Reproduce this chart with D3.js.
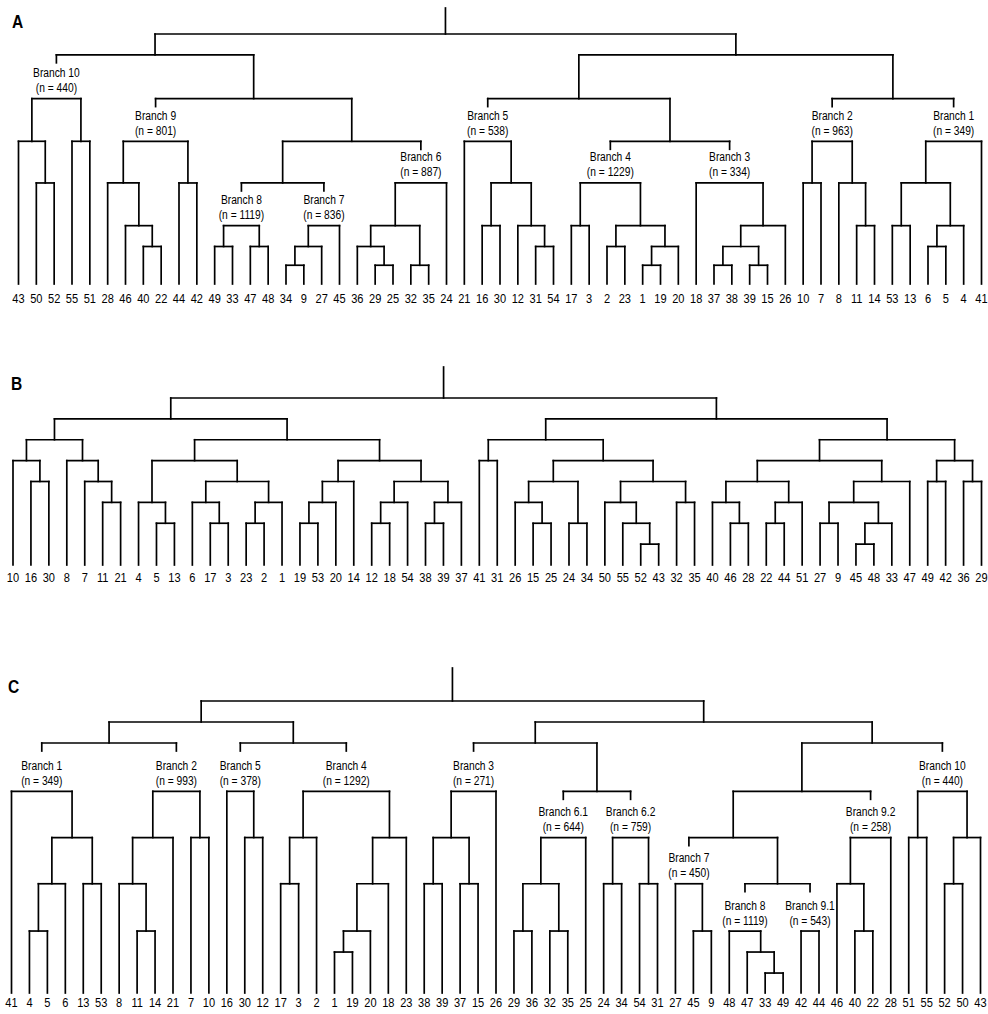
<!DOCTYPE html>
<html><head><meta charset="utf-8">
<script src="https://cdn.jsdelivr.net/npm/d3@7"></script>
<style>
html,body{margin:0;padding:0;background:#fff;}
svg{display:block;}
</style></head><body>
<svg id="chart" width="988" height="1014"></svg>
<script>
// ================= DATA =================
// Panel A — leaf order (bottom labels)
const leavesA = [43,50,52,55,51,28,46,40,22,44,42,49,33,47,48,34,9,27,45,36,29,25,32,35,24,21,16,30,12,31,54,17,3,2,23,1,19,20,18,37,38,39,15,26,10,7,8,11,14,53,13,6,5,4,41];
const branchIdsA = ["10","9","8","7","6","5","4","3","2","1"];
const branchNA   = [440,801,1119,836,887,538,1229,334,963,349];
// subtrees: "(a,b):height!branchId" (heights estimated, leaf = 0)
const A_b10 = "((43,(50,52):4.85):6.85,(55,51):6.85):8.9!10";
const A_b9  = "((28,(46,(40,22):1.8):2.8):4.85,(44,42):4.85):6.85!9";
const A_b8  = "((49,33):1.8,(47,48):1.8):2.8!8";
const A_b7  = "(((34,9):0.9,27):1.8,45):2.8!7";
const A_b6  = "(((36,(29,25):0.9):1.8,(32,35):0.9):2.8,24):4.85!6";
const A_b5  = "(21,((16,30):2.8,(12,(31,54):1.8):2.8):4.85):6.85!5";
const A_b4  = "((17,3):2.8,((2,23):1.8,((1,19):0.9,20):1.8):2.8):4.85!4";
const A_b3  = "(18,(((37,38):0.9,(39,15):0.9):1.8,26):2.8):4.85!3";
const A_b2  = "((10,7):4.85,(8,(11,14):2.8):4.85):6.85!2";
const A_b1  = "(((53,13):2.8,((6,5):1.8,4):2.8):4.85,41):6.85!1";
const treeA = `((${A_b10},(${A_b9},((${A_b8},${A_b7}):4.85,${A_b6}):6.85):8.9):11,((${A_b5},(${A_b4},${A_b3}):6.85):8.9,(${A_b2},${A_b1}):8.9):11):12`;

// Panel B
const leavesB = [10,16,30,8,7,11,21,4,5,13,6,17,3,23,2,1,19,53,20,14,12,18,54,38,39,37,41,31,26,15,25,24,34,50,55,52,43,32,35,40,46,28,22,44,51,27,9,45,48,33,47,49,42,36,29];
const B_l1 = "((10,(16,30):4):5,(8,(7,(11,21):3):4):5):6";
const B_l2 = "(((4,(5,13):2):3,((6,(17,3):2):3,((23,2):2,1):3):4):5,((((19,53):2,20):3,14):4,(((12,18):2,54):3,((38,39):2,37):3):4):5):6";
const B_r1 = "((41,31):5,(((26,(15,25):2):3,(24,34):2):4,((50,(55,(52,43):1):2):3,(32,35):3):4):5):6";
const B_r2 = "((((40,(46,28):2):3,((22,44):2,51):3):4,(((27,9):2,((45,48):1,33):2):3,47):4):5,((49,42):4,(36,29):4):5):6";
const treeB = `((${B_l1},${B_l2}):7,(${B_r1},${B_r2}):7):8`;

// Panel C
const leavesC = [41,4,5,6,13,53,8,11,14,21,7,10,16,30,12,17,3,2,1,19,20,18,23,38,39,37,15,26,29,36,32,35,25,24,34,54,31,27,45,9,48,47,33,49,42,44,46,40,22,28,51,55,52,50,43];
const branchIdsC = ["1","2","5","4","3","6.1","6.2","7","8","9.1","9.2","10"];
const branchNC   = [349,993,378,1292,271,644,759,450,1119,543,258,440];
const C_b1  = "(41,(((4,5):2.95,6):5.2,(13,53):5.2):7.4):9.6!1";
const C_b2  = "(((8,(11,14):2.95):5.2,21):7.4,(7,10):7.4):9.6!2";
const C_b5  = "(16,(30,12):7.4):9.6!5";
const C_b4  = "(((17,3):5.2,2):7.4,((((1,19):1.95,20):2.95,18):5.2,23):7.4):9.6!4";
const C_b3  = "(((38,39):5.2,(37,15):5.2):7.4,26):9.6!3";
const C_b61 = "(((29,36):2.95,(32,35):2.95):5.2,25):7.4!6.1";
const C_b62 = "((24,34):5.2,(54,31):5.2):7.4!6.2";
const C_b7  = "(27,(45,9):2.95):5.2!7";
const C_b8  = "(48,(47,(33,49):0.95):1.95):2.95!8";
const C_b91 = "(42,44):2.95!9.1";
const C_b92 = "((46,(40,22):2.95):5.2,28):7.4!9.2";
const C_b10 = "((51,55):7.4,((52,50):5.2,43):7.4):9.6!10";
const treeC = `(((${C_b1},${C_b2}):11.9,(${C_b5},${C_b4}):11.9):12.9,((${C_b3},(${C_b61},${C_b62}):9.6):11.9,(((${C_b7},(${C_b8},${C_b91}):5.2):7.4,${C_b92}):9.6,${C_b10}):11.9):12.9):13.9`;

const panelLetters = ["A","B","C"];

// ================= LAYOUT =================
const panels = [
  {letter: panelLetters[0], tree: treeA, leaves: leavesA, ids: branchIdsA, ns: branchNA,
   xRange:[18.5,981.5], leafY:284, rootY:34, maxH:12, stemTop:8, labelY:303, letterPos:[12,28]},
  {letter: panelLetters[1], tree: treeB, leaves: leavesB, ids: [], ns: [],
   xRange:[13,981.5], leafY:565, rootY:398, maxH:8, stemTop:367, labelY:582, letterPos:[11,390]},
  {letter: panelLetters[2], tree: treeC, leaves: leavesC, ids: branchIdsC, ns: branchNC,
   xRange:[11.5,980.5], leafY:993, rootY:701, maxH:13.9, stemTop:668, labelY:1007, letterPos:[8,693]}
];

const FONT = "'Liberation Sans',Arial,Helvetica,sans-serif";
const NARROW = 0.82;   // condensed face look
const svg = d3.select("#chart");
svg.append("rect").attr("width",988).attr("height",1014).attr("fill","#fff");

function parseNewick(str){
  const s = str.replace(/\s+/g,"");
  let i = 0;
  function tok(){ let t=""; while(i<s.length && s[i]!=="," && s[i]!==")" && s[i]!=="(") t+=s[i++]; return t; }
  function node(){
    if(s[i]==="("){
      i++;
      const kids=[node()];
      while(s[i]===","){ i++; kids.push(node()); }
      i++;
      const t = tok();
      const m = t.match(/^:([\d.]+)(?:!(.+))?$/);
      return {children:kids, height: m?+m[1]:0, branch: m&&m[2]?m[2]:null};
    }
    return {name: tok(), height:0};
  }
  return node();
}

function narrowText(sel, fx, fy, size, anchor, weight){
  return sel.append("text")
    .attr("transform", d => `translate(${fx(d)},${fy(d)}) scale(${NARROW},1)`)
    .attr("text-anchor", anchor)
    .attr("font-family", FONT)
    .attr("font-size", size)
    .attr("font-weight", weight || "normal")
    .attr("fill", "#000");
}

function drawPanel(cfg){
  const g = svg.append("g");
  const root = d3.hierarchy(parseNewick(cfg.tree), d => d.children);
  const x = d3.scalePoint().domain(cfg.leaves.map(String)).range(cfg.xRange);
  const y = d3.scaleLinear().domain([0,cfg.maxH]).range([cfg.leafY,cfg.rootY]);
  root.eachAfter(n => {
    n.px = n.children ? d3.mean(n.children, c => c.px) : x(n.data.name);
    n.py = y(n.data.height);
  });

  const segs = [];
  const labels = [];
  root.each(n => {
    if(!n.children) return;
    const xs = n.children.map(c => c.px);
    segs.push([d3.min(xs), n.py, d3.max(xs), n.py]);
    n.children.forEach(c => {
      if(c.data.branch){
        segs.push([c.px, n.py, c.px, n.py + 8]);
        const k = cfg.ids.indexOf(c.data.branch);
        labels.push({x:c.px, y:c.py, id:c.data.branch, n: cfg.ns[k]});
      } else {
        segs.push([c.px, n.py, c.px, c.py]);
      }
    });
  });
  segs.push([root.px, cfg.stemTop, root.px, root.py]);

  g.selectAll("line.seg").data(segs).enter().append("line")
    .attr("class","seg")
    .attr("x1",d=>d[0]).attr("y1",d=>d[1]).attr("x2",d=>d[2]).attr("y2",d=>d[3])
    .attr("stroke","#000").attr("stroke-width",1.7).attr("stroke-linecap","square");

  // leaf labels
  const lg = g.selectAll("g.leaf").data(root.leaves()).enter().append("g").attr("class","leaf");
  narrowText(lg, d=>d.px, ()=>cfg.labelY, 13.5, "middle").text(d=>d.data.name);

  // branch labels
  const bl = g.selectAll("g.blab").data(labels).enter().append("g").attr("class","blab");
  narrowText(bl, d=>d.x, d=>d.y-21.5, 12.5, "middle").text(d=>"Branch " + d.id);
  narrowText(bl, d=>d.x, d=>d.y-6.5, 12.5, "middle").text(d=>"(n = " + d.n + ")");

  // panel letter
  const pl = g.selectAll("g.letter").data([cfg]).enter().append("g").attr("class","letter");
  narrowText(pl, d=>d.letterPos[0], d=>d.letterPos[1], 19, "start", "bold").text(d=>d.letter);
}

panels.forEach(drawPanel);
</script>
</body></html>
